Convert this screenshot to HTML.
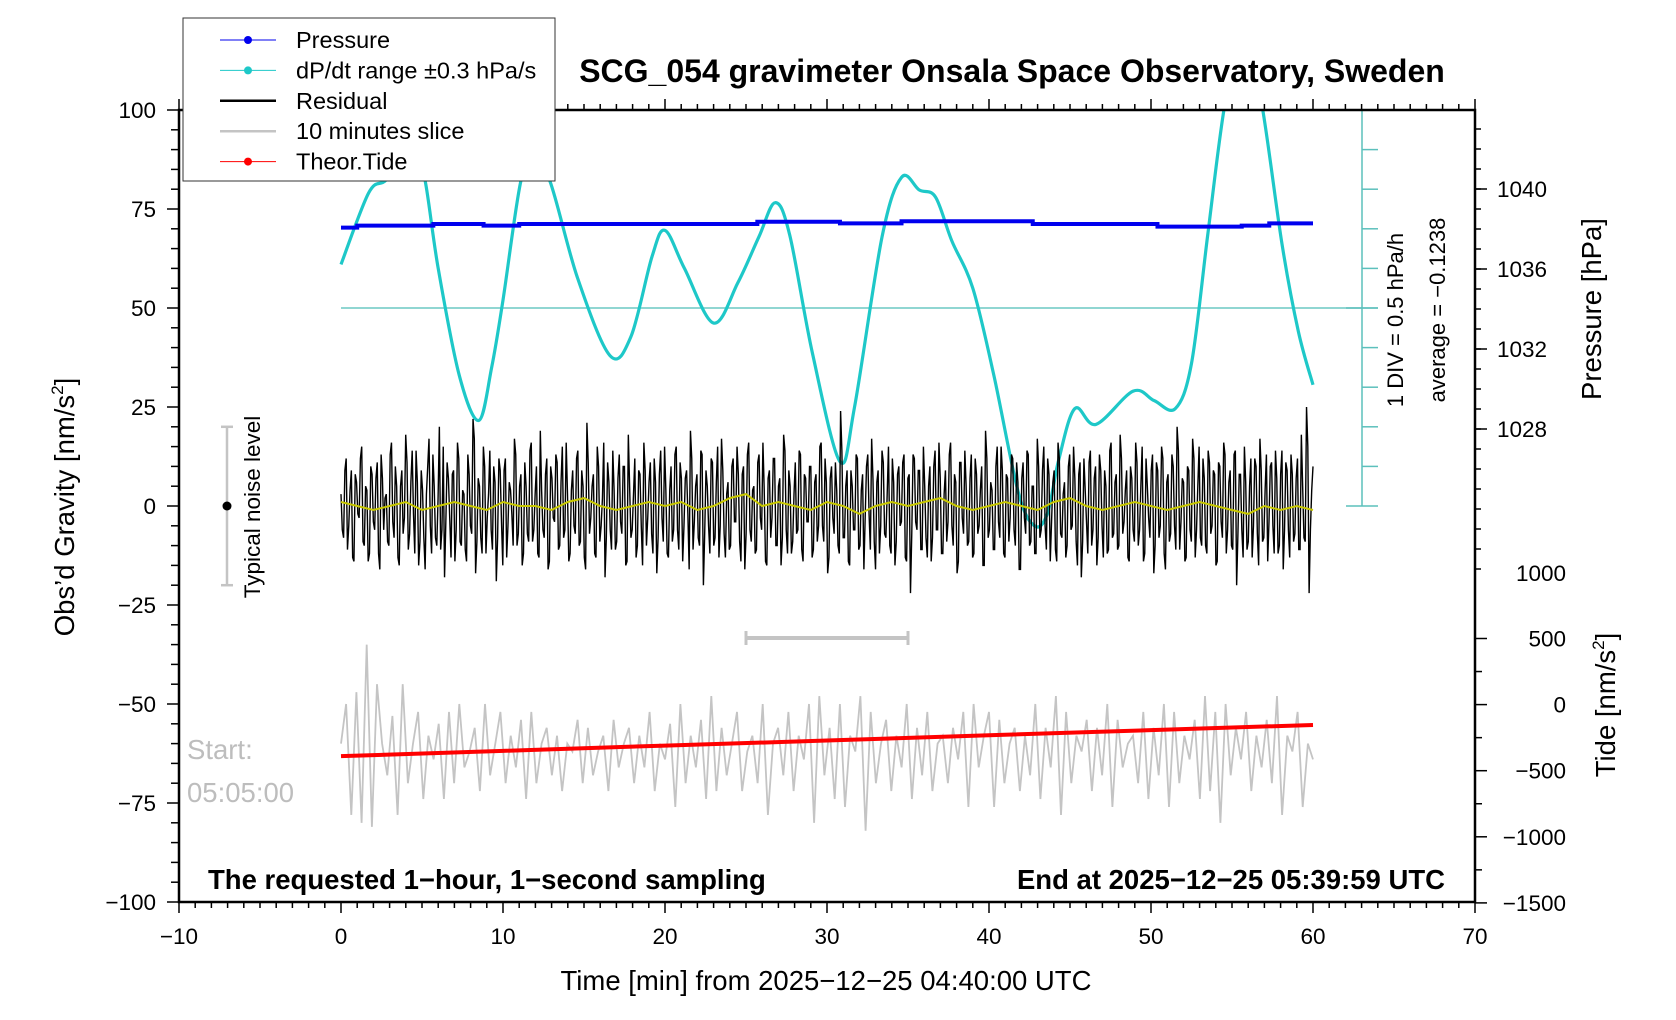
<!DOCTYPE html>
<html><head><meta charset="utf-8">
<style>
html,body{margin:0;padding:0;background:#fff;}
svg{display:block;font-family:"Liberation Sans",sans-serif;}
</style></head>
<body>
<svg id="chart" width="1676" height="1020" viewBox="0 0 1676 1020" xmlns="http://www.w3.org/2000/svg">
<defs><clipPath id="plotclip"><rect x="179" y="110" width="1296" height="792"/></clipPath></defs>
<g id="marks" clip-path="url(#plotclip)"></g>
<g id="axes"></g>
<g id="texts">
  <text x="1012" y="82" font-size="32" font-weight="bold" text-anchor="middle">SCG_054 gravimeter Onsala Space Observatory, Sweden</text>
  <text x="208" y="889" font-size="27.5" font-weight="bold">The requested 1−hour, 1−second sampling</text>
  <text x="1445" y="889" font-size="27.5" font-weight="bold" text-anchor="end">End at 2025−12−25 05:39:59 UTC</text>
  <text x="826" y="990" font-size="27.5" text-anchor="middle">Time [min] from 2025−12−25 04:40:00 UTC</text>
  <text transform="translate(74,507) rotate(-90)" font-size="27.5" text-anchor="middle">Obs’d Gravity [nm/s<tspan font-size="17" dy="-11">2</tspan><tspan dy="11">]</tspan></text>
  <text transform="translate(1601,309) rotate(-90)" font-size="27.5" text-anchor="middle">Pressure [hPa]</text>
  <text transform="translate(1615,705) rotate(-90)" font-size="27.5" text-anchor="middle">Tide [nm/s<tspan font-size="17" dy="-11">2</tspan><tspan dy="11">]</tspan></text>
  <text transform="translate(1403,320) rotate(-90)" font-size="22" text-anchor="middle">1 DIV = 0.5 hPa/h</text>
  <text transform="translate(1445,310) rotate(-90)" font-size="22" text-anchor="middle">average = −0.1238</text>
  <text transform="translate(260,507) rotate(-90)" font-size="22.5" text-anchor="middle">Typical noise level</text>
  <text x="187" y="759" font-size="27.5" fill="#bdbdbd">Start:</text>
  <text x="187" y="802" font-size="27.5" fill="#bdbdbd">05:05:00</text>
</g>
<g id="legend"></g>
</svg>
<script>
// ---- data ----
const xTicks = [-10,0,10,20,30,40,50,60,70];
const gravTicks = [100,75,50,25,0,-25,-50,-75,-100];
const pressTicks = [1040,1036,1032,1028];
const tideTicks = [500,0,-500,-1000,-1500];
const dpdtTimes = [0,1.7,2.7,3.7,4.6,5.2,6,7.3,8.5,9.3,10,11.1,11.9,12.9,14.6,16.6,17.9,19.2,20,21.2,23,24.5,25.8,26.8,27.7,29.1,30.8,31.7,33.4,34.6,35.7,36.7,37.7,39,40.3,41.8,42.8,43.6,44.3,45.3,46.6,48.9,50.2,51.5,52.5,53.5,54.5,55.7,56.9,58.1,59.1,60];
const dpdtValues = [0.55,1.45,1.6,1.8,1.95,1.6,0.5,-0.85,-1.42,-0.75,0.1,1.6,1.85,1.6,0.38,-0.6,-0.36,0.65,0.98,0.5,-0.19,0.32,0.9,1.33,0.92,-0.57,-1.94,-1.25,0.9,1.65,1.49,1.4,0.85,0.25,-0.85,-2.32,-2.75,-2.6,-1.92,-1.27,-1.47,-1.05,-1.17,-1.27,-0.7,0.92,2.5,3.75,2.5,0.79,-0.3,-0.97];
const pressTimes = [0,1,5.7,8.8,11,25.7,30.8,34.6,42.7,50.4,55.6,57.3,60];
const pressValues = [1038.07,1038.17,1038.25,1038.17,1038.25,1038.36,1038.28,1038.39,1038.25,1038.12,1038.17,1038.28,1038.28];
const residualA = [3,-8,12,-5,9,-14,6,-3,15,-10,4,-12,8,-6,11,-16,7,2,-9,13,-4,10,-13,5,-7,18,-11,6,-2,14,-15,9,-8,3,17,-12,5,-10,20,-6,
-18,11,-3,8,-14,16,-9,4,-11,13,-5,22,-17,7,-8,15,-12,3,-6,10,-19,12,-4,9,-13,6,-2,17,-10,5,
-15,11,-7,14,-9,3,-12,19,-6,8,-16,10,-3,13,-11,6,-8,16,-14,4,-5,12,-10,9,-13,21,-7,5,-12,15,-9,2,-18,11,
-6,14,-11,7,-4,10,-15,18,-8,3,-13,9,-5,16,-10,6,-7,12,-17,8,-3,15,-12,4,-9,13,-6,11,-14,7,-2,19,-11,5,-8,14,-20,9,
-5,12,-10,6,-13,17,-7,3,-11,10,-4,15,-9,8,-16,13,-6,4,-12,11,-3,16,-14,7,-8,12,-10,5,-15,18,-6,9,-12,3,-7,14,-11,8,-4,10,
-13,6,-9,15,-5,12,-17,7,-3,11,-10,24,-8,5,-14,9,-6,13,-11,4,-16,10,-2,17,-9,6,-12,14,-7,3,-10,12,-15,8,-5,11,-13,7,-22,13,
-4,9,-11,15,-8,5,-14,10,-6,16,-12,3,-9,13,-5,8,-17,11,-3,14,-10,7,-13,12,-7,4,-15,19,-8,6,-11,10,-4,15,-12,8,-9,13,
-6,11,-16,7,-3,14,-10,5,-12,17,-8,9,-5,12,-14,6,-11,16,-7,3,-13,10,-6,15,-9,8,-18,12,-4,11,-10,7,-15,13,-5,9,-12,14,
-8,6,-11,18,-7,4,-13,10,-6,16,-10,5,-14,12,-3,9,-17,11,-8,15,-12,6,-9,13,-5,20,-11,7,-14,10,-6,17,-13,5,-8,12,-10,14,
-7,9,-15,11,-4,16,-12,6,-10,13,-20,8,-6,15,-11,5,-13,12,-7,17,-9,4,-14,10,-5,14,-12,8,-16,11,-6,13,-9,7,-11,18,-8,25,-22,4];
const residualB = [-6,9,-11,4,-13,8,-2,12,-9,5,-14,10,-4,7,-12,13,-6,3,-10,16,-8,5,-15,9,-3,11,-7,14,-12,6,-9,4,-16,10,-5,13,-8,2,-11,15,
-4,7,-13,9,-6,12,-10,3,-14,8,-7,17,-9,5,-12,10,-3,14,-11,6,-8,9,-15,12,-5,4,-10,13,-7,8,
-12,5,-9,16,-6,10,-13,4,-8,12,-14,7,-4,11,-10,15,-6,3,-12,9,-7,14,-9,5,-16,11,-3,8,-13,10,-5,16,-8,6,
-11,4,-9,13,-7,10,-14,5,-6,12,-10,8,-15,9,-3,11,-12,6,-8,14,-9,4,-13,10,-6,15,-11,7,-5,9,-16,12,-4,8,-10,13,-7,5,-12,11,
-8,15,-5,9,-13,6,-10,12,-4,8,-14,10,-7,16,-9,5,-11,13,-6,4,-15,9,-3,12,-10,7,-8,14,-12,5,-9,11,-6,13,-14,7,-4,10,-11,8,
-5,16,-9,6,-13,10,-7,4,-12,14,-8,9,-15,5,-6,12,-10,8,-3,13,-11,7,-16,9,-5,11,-8,15,-12,6,-9,10,-4,13,-14,8,-7,12,-6,9,
-11,5,-13,10,-8,14,-6,7,-12,9,-4,16,-10,6,-14,11,-7,5,-9,13,-12,8,-5,10,-15,12,-6,4,-11,15,-8,9,-13,7,-3,12,-10,6,-16,11,
-7,13,-9,5,-12,10,-6,15,-11,8,-4,9,-14,12,-8,6,-10,13,-5,7,-15,11,-9,4,-12,14,-6,10,-8,9,-13,5,-11,16,-7,8,-10,12,-4,9,
-14,7,-9,11,-6,15,-12,5,-8,13,-10,9,-5,12,-16,8,-7,10,-11,14,-4,6,-13,9,-9,12,-6,15,-10,7,-12,11,-5,8,-14,10,-8,13,-6,9,
-11,14,-7,8,-13,6,-9,12,-5,10,-15,9,-8,13,-4,11,-12,7,-10,14,-6,9,-13,8,-7,12,-11,5,-9,15,-6,10,-14,8,-5,11,-12,9,-8,6];
const smoothed = [1,0,-1,0,1,-1,0,1,0,-1,1,0,0,-1,1,2,0,-1,0,1,0,1,-1,0,2,3,0,1,0,-1,1,0,-2,0,1,0,1,2,0,-1,0,1,0,-1,1,2,0,-1,0,1,0,-1,0,1,0,-1,-2,0,-1,0,-1];
const slice = [-60,-50,-78,-47,-80,-35,-81,-45,-60,-68,-53,-78,-45,-70,-60,-52,-74,-58,-64,-55,-74,-52,-70,-50,-66,-62,-56,-72,-50,-68,-60,-52,-70,-58,-66,-54,-74,-52,-70,-60,
-56,-68,-58,-72,-60,-62,-54,-70,-56,-68,-62,-58,-72,-54,-66,-60,-56,-70,-58,-66,-52,-72,-60,-64,-55,-76,-50,-70,-58,-66,-54,-74,-48,-72,-56,-68,-60,-52,-72,-62,
-58,-70,-50,-78,-60,-56,-68,-52,-72,-58,-64,-50,-80,-48,-68,-56,-74,-50,-76,-58,-62,-48,-82,-52,-70,-60,-54,-72,-58,-66,-50,-74,-56,-68,-52,-72,-60,-58,-70,-56,
-64,-52,-76,-50,-66,-58,-52,-76,-54,-70,-60,-56,-72,-58,-68,-50,-74,-56,-66,-48,-78,-52,-70,-58,-62,-54,-72,-56,-68,-50,-76,-54,-66,-60,-58,-70,-52,-74,-56,-68,
-50,-76,-52,-70,-58,-64,-54,-74,-48,-72,-52,-80,-50,-68,-56,-64,-52,-72,-58,-66,-54,-70,-48,-78,-58,-62,-52,-76,-60,-64];
const tideTimes = [0,10,20,30,40,50,60];
const tideValues = [-390,-350,-310,-272,-232,-193,-154];
const noiseLevel = [-20,0,20];
const sliceBar = [25,35];

// ---- scales ----
const xS = t => 179 + (t + 10) * (1296 / 80);
const yG = g => 110 + (100 - g) * 3.96;
const yP = p => 189 + (1040 - p) * 20;
const yT = v => 704.6 - v * 0.1322;
const yD = v => yG(50 + v * 20);

const NS = "http://www.w3.org/2000/svg";
function mk(tag, attrs, parent){
  const e = document.createElementNS(NS, tag);
  for (const k in attrs) e.setAttribute(k, attrs[k]);
  parent.appendChild(e);
  return e;
}
const marks = document.getElementById('marks');
const axes = document.getElementById('axes');
const legend = document.getElementById('legend');

function smoothPath(xs, ys){
  let d = `M${xs[0]},${ys[0]}`;
  for (let i = 0; i < xs.length - 1; i++){
    const x0 = xs[Math.max(0,i-1)], y0 = ys[Math.max(0,i-1)];
    const x1 = xs[i], y1 = ys[i], x2 = xs[i+1], y2 = ys[i+1];
    const x3 = xs[Math.min(xs.length-1,i+2)], y3 = ys[Math.min(xs.length-1,i+2)];
    d += ` C${x1+(x2-x0)/6},${y1+(y2-y0)/6} ${x2-(x3-x1)/6},${y2-(y3-y1)/6} ${x2},${y2}`;
  }
  return d;
}

let e = mk('line', {x1:xS(0), x2:1378, y1:yD(0), y2:yD(0), stroke:'#6cc8c4', 'stroke-width':1.5}, marks);



e = mk('path', {d: smoothPath(dpdtTimes.map(xS), dpdtValues.map(yD)), fill:'none', stroke:'#1ec8c8', 'stroke-width':3.2}, marks);



let pd = '';
for (let i = 0; i < pressTimes.length - 1; i++){
  pd += (i === 0 ? 'M' : 'L') + xS(pressTimes[i]) + ',' + yP(pressValues[i]) + ' L' + xS(pressTimes[i+1]) + ',' + yP(pressValues[i]);
}
e = mk('path', {d: pd, fill:'none', stroke:'#0000ee', 'stroke-width':4}, marks);



const residual = residualA.flatMap((v,i) => [v, residualB[i]]);
let rd = residual.map((v,i) => (i ? 'L' : 'M') + xS(i * 60 / (residual.length - 1)).toFixed(2) + ',' + yG(v).toFixed(1)).join(' ');
e = mk('path', {d: rd, fill:'none', stroke:'#000', 'stroke-width':1.4}, marks);



let sd = smoothed.map((v,i) => (i ? 'L' : 'M') + xS(i * 60 / (smoothed.length - 1)).toFixed(1) + ',' + yG(v).toFixed(1)).join(' ');
e = mk('path', {d: sd, fill:'none', stroke:'#c8c800', 'stroke-width':2}, marks);



let gd = slice.map((v,i) => (i ? 'L' : 'M') + xS(i * 60 / (slice.length - 1)).toFixed(1) + ',' + yG(v).toFixed(1)).join(' ');
e = mk('path', {d: gd, fill:'none', stroke:'#c4c4c4', 'stroke-width':1.8}, marks);



let td = tideTimes.map((t,i) => (i ? 'L' : 'M') + xS(t) + ',' + yT(tideValues[i])).join(' ');
e = mk('path', {d: td, fill:'none', stroke:'#ff0000', 'stroke-width':4}, marks);



const nx = 227;
e = mk('g', {stroke:'#c4c4c4', 'stroke-width':2.5}, axes);


mk('line', {x1:nx, x2:nx, y1:yG(noiseLevel[0]), y2:yG(noiseLevel[2])}, e);
mk('line', {x1:nx-6, x2:nx+6, y1:yG(noiseLevel[0]), y2:yG(noiseLevel[0])}, e);
mk('line', {x1:nx-6, x2:nx+6, y1:yG(noiseLevel[2]), y2:yG(noiseLevel[2])}, e);
let dot = mk('circle', {cx:nx, cy:yG(noiseLevel[1]), r:4.5, fill:'#000'}, axes);



e = mk('g', {stroke:'#c4c4c4', 'stroke-width':4}, axes);


mk('line', {x1:xS(sliceBar[0]), x2:xS(sliceBar[1]), y1:638, y2:638}, e);
mk('line', {x1:xS(sliceBar[0]), x2:xS(sliceBar[0]), y1:631, y2:645, 'stroke-width':3}, e);
mk('line', {x1:xS(sliceBar[1]), x2:xS(sliceBar[1]), y1:631, y2:645, 'stroke-width':3}, e);

e = mk('g', {stroke:'#5cc0bc', 'stroke-width':1.5}, axes);


mk('line', {x1:1362, x2:1362, y1:110, y2:yD(-2.5)}, e);
for (let k = 0; k <= 10; k++){
  const y = yD(-2.5 + k * 0.5);
  const cap = (k === 0 || k === 10 || k === 5);
  mk('line', {x1: cap ? 1346 : 1362, x2:1378, y1:y, y2:y}, e);
}

e = mk('rect', {x:179, y:110, width:1296, height:792, fill:'none', stroke:'#000', 'stroke-width':2.5}, axes);



const tickG = mk('g', {stroke:'#000', 'stroke-width':1.5}, axes);
for (let t = -10; t <= 70; t++){
  const major = t % 10 === 0;
  const L = major ? 11 : 6;
  mk('line', {x1:xS(t), x2:xS(t), y1:902, y2:902+L}, tickG);
  mk('line', {x1:xS(t), x2:xS(t), y1:110, y2:110-L}, tickG);
}
xTicks.forEach(t => {
  const lab = mk('text', {x:xS(t), y:944, 'font-size':22.5, 'text-anchor':'middle'}, axes);
  lab.textContent = String(t).replace('-', '−');
  
  
});
for (let g = -100; g <= 100; g += 5){
  const major = g % 25 === 0;
  mk('line', {x1:179 - (major ? 12 : 8), x2:179, y1:yG(g), y2:yG(g)}, tickG);
}
gravTicks.forEach(g => {
  const lab = mk('text', {x:156, y:yG(g)+8, 'font-size':22.5, 'text-anchor':'end'}, axes);
  lab.textContent = String(g).replace('-', '−');
  
  
});
for (let y = 129; y <= 575; y += 20){
  mk('line', {x1:1475, x2:1481, y1:y, y2:y}, tickG);
}
pressTicks.forEach(p => {
  mk('line', {x1:1475, x2:1487, y1:yP(p), y2:yP(p)}, tickG);
  const lab = mk('text', {x:1497, y:yP(p)+8, 'font-size':22.5}, axes);
  lab.textContent = String(p);
  
  
});
let l1000 = mk('text', {x:1566, y:581, 'font-size':22.5, 'text-anchor':'end'}, axes);
l1000.textContent = '1000';


for (let v = -1500; v <= 500; v += 250){
  mk('line', {x1:1475, x2:1475 + (v % 500 === 0 ? 12 : 7), y1:yT(v), y2:yT(v)}, tickG);
}
tideTicks.forEach(v => {
  const lab = mk('text', {x:1566, y:yT(v)+8, 'font-size':22.5, 'text-anchor':'end'}, axes);
  lab.textContent = String(v).replace('-', '−');
  
  
});

const lb = mk('rect', {x:183, y:18, width:372, height:163, fill:'#fff', stroke:'#333', 'stroke-width':1}, legend);


const legNames = ['Pressure','dP/dt range ±0.3 hPa/s','Residual','10 minutes slice','Theor.Tide'];
const legColors = ['#0000ee','#1ec8c8','#000','#c4c4c4','#ff0000'];
const legDots = [true,true,false,false,true];
legNames.forEach((n,i) => {
  const y = 40 + i * 30.4;
  const g = mk('g', {}, legend);
  
  
  mk('line', {x1:220, x2:276, y1:y, y2:y, stroke:legColors[i], 'stroke-width': legDots[i] ? 1 : 2.5}, g);
  if (legDots[i]) mk('circle', {cx:248, cy:y, r:4, fill:legColors[i]}, g);
  const t = mk('text', {x:296, y:y+8, 'font-size':23.5}, g);
  t.textContent = n;
});
</script>
</body></html>
